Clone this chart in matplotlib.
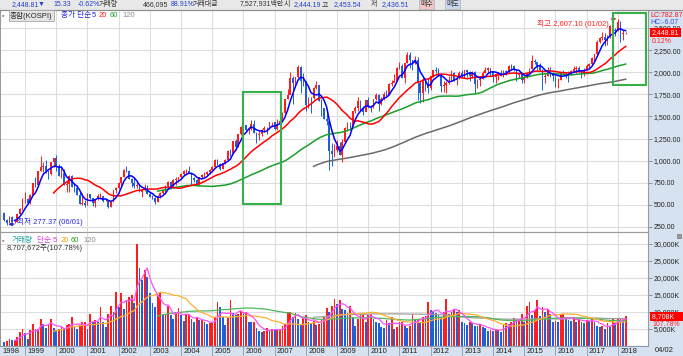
import numpy as np
import pandas as pd
import matplotlib
matplotlib.use("Agg")
import matplotlib.pyplot as plt
from matplotlib.patches import Rectangle
from matplotlib.lines import Line2D

plt.rcParams['font.family'] = ['Liberation Sans', 'Noto Sans CJK KR', 'DejaVu Sans']

# KOSPI monthly, 1998/05 .. 2018/04
first_open = 407
close = [
    331, 297, 365, 311, 311, 399, 449, 562,
    571, 520, 617, 747, 723, 883, 932, 944, 879, 846, 980, 1028,
    944, 828, 861, 725, 731, 821, 705, 688, 613, 514, 526, 504,
    620, 577, 523, 563, 595, 595, 541, 546, 479, 535, 664, 693,
    752, 819, 895, 883, 796, 742, 716, 722, 646, 668, 680, 627,
    591, 575, 535, 600, 634, 669, 712, 759, 697, 779, 797, 810,
    848, 880, 883, 862, 803, 785, 735, 811, 835, 846, 868, 896,
    932, 1011, 965, 911, 970, 1008, 1111, 1083, 1221, 1158, 1297, 1379,
    1399, 1352, 1359, 1419, 1317, 1295, 1297, 1352, 1371, 1364, 1432, 1434,
    1360, 1417, 1452, 1542, 1701, 1743, 1933, 1873, 1946, 2064, 1906, 1897,
    1624, 1711, 1704, 1825, 1852, 1674, 1594, 1474, 1448, 1113, 1076, 1124,
    1162, 1063, 1206, 1369, 1396, 1390, 1557, 1591, 1673, 1581, 1555, 1682,
    1602, 1594, 1692, 1741, 1641, 1698, 1759, 1742, 1872, 1882, 1904, 2051,
    2069, 1939, 2106, 2192, 2142, 2100, 2133, 1880, 1770, 1909, 1847, 1826,
    1956, 2030, 2014, 1982, 1843, 1854, 1881, 1905, 1996, 1913, 1933, 1997,
    1961, 2027, 2005, 1963, 2001, 1863, 1915, 1926, 1997, 2030, 2045, 2011,
    1941, 1980, 1986, 1961, 2017, 2002, 2076, 2068, 2020, 1964, 1981, 1916,
    1949, 1986, 2041, 2127, 2114, 2074, 2030, 1941, 1963, 2029, 1991, 1961,
    1912, 1917, 1996, 1994, 1983, 1970, 2016, 2034, 2044, 2008, 1983, 2026,
    2067, 2092, 2160, 2205, 2347, 2392, 2403, 2363, 2394, 2523, 2476, 2467,
    2566, 2427, 2445, 2448.81,
]
high = [
    420, 340, 370, 375, 330, 400, 469, 575,
    640, 580, 625, 747, 811, 886, 1052, 981, 1005, 893, 981, 1028,
    1066, 960, 916, 900, 770, 835, 840, 740, 720, 640, 630, 560,
    630, 628, 580, 565, 620, 630, 605, 570, 545, 540, 665, 704,
    757, 820, 905, 943, 890, 800, 800, 760, 740, 680, 740, 730,
    650, 610, 590, 610, 640, 680, 720, 770, 770, 790, 810, 820,
    860, 890, 905, 940, 870, 820, 790, 820, 850, 870, 880, 900,
    940, 1024, 1022, 970, 975, 1015, 1115, 1128, 1225, 1240, 1300, 1390,
    1425, 1400, 1380, 1465, 1465, 1320, 1330, 1360, 1390, 1380, 1440, 1440,
    1440, 1470, 1460, 1545, 1701, 1810, 2004, 1960, 1950, 2085, 2070, 1990,
    1890, 1720, 1720, 1830, 1900, 1850, 1700, 1600, 1580, 1450, 1200, 1190,
    1230, 1210, 1240, 1380, 1440, 1440, 1560, 1620, 1720, 1690, 1620, 1690,
    1720, 1630, 1700, 1760, 1750, 1720, 1780, 1800, 1880, 1910, 1980, 2055,
    2115, 2090, 2110, 2230, 2230, 2140, 2185, 2170, 1900, 1940, 1940, 1930,
    1960, 2030, 2060, 2050, 1990, 1900, 1900, 1960, 2020, 2000, 1950, 2010,
    2030, 2030, 2030, 2010, 2010, 2010, 1920, 1950, 2010, 2060, 2060, 2050,
    2015, 1990, 2000, 2020, 2020, 2020, 2080, 2090, 2080, 2030, 1990, 1990,
    1960, 1990, 2050, 2190, 2150, 2110, 2100, 2040, 1990, 2060, 2060, 2000,
    1960, 1930, 2000, 2030, 2000, 2010, 2030, 2070, 2070, 2070, 2020, 2050,
    2090, 2100, 2170, 2210, 2360, 2400, 2450, 2440, 2420, 2530, 2560, 2500,
    2607.10, 2580, 2480, 2453,
]
low = [
    321, 277.37, 293, 302, 300, 306, 390, 440,
    520, 506, 511, 614, 700, 719, 880, 877, 860, 793, 840, 930,
    882, 828, 800, 720, 650, 650, 705, 650, 610, 507, 500, 480,
    500, 570, 491, 480, 555, 580, 530, 540, 463, 480, 530, 630,
    680, 700, 815, 870, 790, 700, 690, 690, 640, 584, 660, 620,
    590, 570, 512, 530, 580, 620, 650, 690, 680, 690, 730, 760,
    800, 830, 840, 860, 730, 760, 720, 730, 800, 820, 830, 850,
    880, 930, 950, 890, 900, 960, 1000, 1050, 1080, 1120, 1150, 1290,
    1330, 1320, 1300, 1350, 1310, 1200, 1230, 1280, 1320, 1300, 1360, 1380,
    1345, 1350, 1380, 1440, 1540, 1700, 1750, 1638, 1830, 1930, 1770, 1850,
    1560, 1600, 1540, 1700, 1810, 1670, 1500, 1470, 1400, 892, 940, 1040,
    1100, 1060, 990, 1200, 1340, 1350, 1380, 1540, 1560, 1560, 1520, 1560,
    1600, 1550, 1600, 1690, 1560, 1630, 1690, 1720, 1740, 1850, 1890, 1900,
    2040, 1930, 1880, 2100, 2050, 2020, 2090, 1690, 1650, 1660, 1790, 1760,
    1800, 1950, 1990, 1960, 1780, 1780, 1760, 1870, 1900, 1900, 1860, 1920,
    1940, 1930, 1950, 1900, 1940, 1770, 1820, 1850, 1920, 1990, 1990, 1960,
    1890, 1880, 1910, 1960, 1950, 1970, 1990, 2030, 2010, 1900, 1930, 1880,
    1880, 1940, 1970, 2040, 2090, 2030, 2010, 1800, 1880, 1960, 1950, 1900,
    1830, 1820, 1910, 1970, 1930, 1890, 1970, 2000, 1990, 2000, 1930, 1960,
    2020, 2050, 2080, 2130, 2200, 2330, 2370, 2300, 2310, 2390, 2460, 2410,
    2470, 2340, 2370, 2436,
]
# volume, shown in K on the axis
volume = [
    1260, 1470, 1960, 1670, 1670, 2740, 4110, 5100,
    3720, 2160, 4700, 6370, 4900, 5100, 7940, 6570, 5290, 6570, 7940, 5290,
    4600, 5000, 5680, 4900, 6080, 6570, 8620, 5680, 5100, 6080, 6970, 6970,
    5000, 9300, 7150, 7640, 7000, 11560, 7000, 5680, 9300, 11850, 10090, 15780,
    11560, 15490, 10880, 13520, 14500, 15000, 12540, 29900, 22840, 19400, 22340, 20380,
    15490, 12540, 11560, 15000, 15490, 9110, 9110, 11850, 9110, 7940, 9900, 11270,
    9110, 7350, 9300, 9300, 7940, 7000, 8620, 7640, 7640, 7000, 6370, 6660,
    7000, 8620, 13030, 11560, 8620, 6170, 8620, 13520, 9600, 9110, 9300, 10290,
    10090, 10090, 7150, 7000, 7000, 5200, 4410, 4020, 4410, 5200, 4800, 5000,
    4600, 4600, 4800, 5790, 6370, 9900, 10100, 8620, 9700, 7800, 6500, 8200,
    9000, 7100, 6800, 7500, 6200, 6600, 7900, 8500, 11080, 9900, 11670, 13800,
    12500, 13400, 10880, 10500, 9700, 11850, 8440, 5970, 7940, 9110, 9110, 7150,
    9110, 9400, 7940, 6960, 6760, 5490, 5200, 7740, 6760, 8440, 5000, 5490,
    6960, 7150, 5970, 5200, 5970, 9400, 7740, 7940, 7150, 8440, 8920, 13030,
    10500, 10200, 9700, 9400, 8440, 9900, 13800, 9400, 9900, 10780, 9900, 10500,
    6960, 6760, 6170, 7150, 6760, 5970, 5790, 6370, 5490, 5200, 4510, 4800,
    4510, 5000, 4800, 4210, 6170, 6760, 6370, 7150, 8130, 7940, 7940, 9400,
    6960, 11850, 13030, 9110, 10500, 13400, 8920, 11370, 9900, 10880, 9400, 6960,
    7450, 6960, 9110, 9400, 7940, 7740, 7450, 8440, 7150, 7940, 6960, 6760,
    7740, 7450, 7940, 6960, 5970, 5490, 5970, 5000, 6760, 5490, 7940, 6760,
    8130, 8130, 7740, 8708,
]
years = list(range(1998, 2019))
price_ticks = [250, 500, 750, 1000, 1250, 1500, 1750, 2000, 2250, 2500]
vol_ticks = [5000, 10000, 15000, 20000, 25000, 30000]

W, H = 683, 356
def fx(p):
    return p / W
def fy(p):
    return 1 - p / H

RED = '#ff1c1c'
BLUE = '#1f5fd8'
FS = 5.5    # general small text
RS = 5.0    # right-hand scale labels

close = np.array(close, float)
high = np.array(high, float)
low = np.array(low, float)
volume = np.array(volume, float)
n = len(close)
x = np.arange(n)
open_ = np.r_[first_open, close[:-1]]   # month opens at last month's close
jan_pos = [(y - 1998) * 12 - 4 for y in years]
xl = (-1.62, 247.6)

fig = plt.figure(figsize=(W / 100, H / 100), dpi=100)
fig.patches.append(Rectangle((0, fy(10)), 1, 10 / H, transform=fig.transFigure,
                             fc='#e8e8e8', ec='none', zorder=-5))
fig.patches.append(Rectangle((fx(648), 0), 1 - fx(648), fy(10), transform=fig.transFigure,
                             fc='#d6e2f0', ec='none', zorder=-5))

ax = fig.add_axes([0, fy(232), fx(648), 222 / H])
axv = fig.add_axes([0, fy(346), fx(648), 114 / H], sharex=ax)
axx = fig.add_axes([0, 0, fx(648), 10 / H], sharex=ax)
fig.add_artist(Line2D([0, 1], [fy(10.3)] * 2, color='#8c8c8c', lw=0.8))

for a in (ax, axv):
    a.set_facecolor('white')
    a.set_axisbelow(True)
    a.grid(True, color='#dddddd', lw=0.8)
    a.yaxis.tick_right()
    a.tick_params(axis='x', length=0, labelbottom=False)
    a.tick_params(axis='y', length=3, width=0.6, pad=1.2, labelsize=RS,
                  color='#7a8696', labelcolor='#222222')
    for s in a.spines.values():
        s.set_color('#9a9a9a')
        s.set_linewidth(0.8)
ax.set_xticks(jan_pos[1:])
ax.set_xlim(*xl)

# price panel
up = close >= open_
ax.vlines(x[up], low[up], high[up], color=RED, lw=0.7)
ax.vlines(x[~up], low[~up], high[~up], color=BLUE, lw=0.7)
ax.bar(x, np.abs(close - open_), bottom=np.minimum(open_, close), width=0.7,
       color=np.where(up, RED, BLUE), lw=0)
cs = pd.Series(close)
ax.plot(x, cs.rolling(120).mean(), color='#6a6a6a', lw=1.1)
ax.plot(x, cs.rolling(60).mean(), color='#1a9e2a', lw=1.1)
ax.plot(x, cs.rolling(20).mean(), color='#ff0000', lw=1.1)
ax.plot(x, cs.rolling(5).mean(), color='#0000ff', lw=1.1)
ax.set_ylim(193, 2704)
ax.set_yticks(price_ticks)
ax.set_yticklabels([f'{v:,.2f}' for v in price_ticks])

for (x0, y0, x1, y1) in [(243, 92, 281, 204), (613, 13, 646, 85)]:
    ax.add_patch(Rectangle((x0 / 648, (232 - y1) / 222), (x1 - x0) / 648, (y1 - y0) / 222,
                           transform=ax.transAxes, fill=False, ec='#36b04a', lw=1.5, zorder=5))

imax = int(np.argmax(high))
ax.annotate('최고 2,607.10 (01/02)', xy=(imax, high[imax]), xytext=(-9, -5),
            textcoords='offset pixels', ha='right', va='center', fontsize=FS, color='#ff2020',
            arrowprops=dict(arrowstyle='-|>', color='#ff2020', lw=0.9, mutation_scale=5,
                            shrinkA=0, shrinkB=1))
imin = int(np.argmin(low))
ax.annotate('최저 277.37 (06/01)', xy=(imin, low[imin]), xytext=(10, 3),
            textcoords='offset pixels', ha='left', va='center', fontsize=FS, color='#2a2ad8',
            arrowprops=dict(arrowstyle='-|>', color='#2a2ad8', lw=0.9, mutation_scale=5,
                            shrinkA=0, shrinkB=1))

ytr = ax.get_yaxis_transform()
ax.text(1.006, close[-1], f'{close[-1]:,.2f}', transform=ytr, ha='left', va='center',
        fontsize=RS, color='white', clip_on=False,
        bbox=dict(boxstyle='square,pad=0.2', fc='#ff0000', ec='none'))
ax.annotate('0.12%', xy=(1.0, close[-1]), xycoords=ytr, xytext=(4, -8.5),
            textcoords='offset pixels', fontsize=RS, color='#ff2020', va='center',
            annotation_clip=False)

# price legend
fig.text(fx(1.5), fy(15.5), '▫', fontsize=5, color='#555555', va='center')
fig.text(fx(10), fy(15.5), '종합(KOSPI)', fontsize=5.5, color='#222222', va='center',
         bbox=dict(boxstyle='square,pad=0.15', fc='#e4e4e4', ec='#a8a8a8', lw=0.6))
for txt, xp, col in [('종가 단순', 61, '#2020e0'), ('5', 92, '#2020e0'), ('20', 99, '#ff2020'),
                     ('60', 110, '#1a9e2a'), ('120', 122, '#8c8c8c')]:
    fig.text(fx(xp), fy(15.5), txt, fontsize=5.5, color=col, va='center')

fig.text(fx(650.5), fy(15.5), 'LC:782.87', fontsize=RS, color='#ff1010', va='center')
fig.text(fx(650.5), fy(22), 'HC:-6.07', fontsize=RS, color='#3050e0', va='center')

# volume panel
vup = np.r_[False, volume[1:] >= volume[:-1]]
axv.bar(x, volume, width=0.7, color=np.where(vup, RED, BLUE), lw=0)
vs = pd.Series(volume)
axv.plot(x, vs.rolling(120).mean(), color='#a0a0a0', lw=0.9)
axv.plot(x, vs.rolling(60).mean(), color='#4cb85a', lw=0.9)
axv.plot(x, vs.rolling(20).mean(), color='#ffb030', lw=0.9)
axv.plot(x, vs.rolling(5).mean(), color='#ff50ff', lw=0.9)
axv.set_ylim(0, 33530)
axv.set_yticks(vol_ticks)
axv.set_yticklabels([f'{v:,}K' for v in vol_ticks])
vtr = axv.get_yaxis_transform()
axv.text(1.006, volume[-1], f'{volume[-1]:,.0f}K    ', transform=vtr, ha='left',
         va='center', fontsize=RS, color='white', clip_on=False,
         bbox=dict(boxstyle='square,pad=0.2', fc='#ff0000', ec='none'))
axv.annotate('107.78%', xy=(1.0, volume[-1]), xycoords=vtr, xytext=(4, -8.5),
             textcoords='offset pixels', fontsize=RS, color='#ff2020', va='center',
             annotation_clip=False)

fig.text(fx(1.5), fy(240.5), '▫', fontsize=5, color='#555555', va='center')
for txt, xp, col in [('거래량', 12, '#1aa0a0'), ('단순 5', 37, '#e040d8'), ('20', 61, '#f0a000'),
                     ('60', 71, '#1a9e2a'), ('120', 83, '#8c8c8c')]:
    fig.text(fx(xp), fy(240.5), txt, fontsize=5.5, color=col, va='center')
fig.text(fx(7), fy(248.5), '8,707,672주(107.78%)', fontsize=5.5, color='#333333', va='center')
fig.patches.append(Rectangle((fx(677), fy(238)), 4 / W, 4 / H, transform=fig.transFigure,
                             fc='#9a9a9a', ec='#6a6a6a', lw=0.4))

# date strip
axx.set_facecolor('#d6e2f0')
axx.set_ylim(0, 1)
axx.set_yticks([])
axx.tick_params(axis='x', length=0, labelbottom=False)
axx.grid(True, axis='x', color='#8d9bb0', lw=0.6)
for s in axx.spines.values():
    s.set_visible(False)
axx.spines['top'].set_visible(True)
axx.spines['top'].set_color('#8d9bb0')
xtr = axx.get_xaxis_transform()
for yr, p in zip(years, jan_pos):
    axx.text(max(p, xl[0]) + 0.9, 0.45, str(yr), transform=xtr, fontsize=FS,
             color='#222222', va='center', ha='left')
fig.text(fx(655), fy(351), '04/02', fontsize=FS, color='#222222', va='center')

# top status bar
top = [('2,448.81', 12, '#2040d0'), ('▼', 38, '#2040d0'), ('15.33', 53, '#2040d0'),
       ('-0.62%', 78, '#2040d0'), ('거래량', 99, '#333333'), ('466,095', 143, '#333333'),
       ('88.91%', 171, '#2040d0'), ('거래대금', 193, '#333333'),
       ('7,527,931백만', 240, '#333333'), ('시', 284, '#333333'), ('2,444.19', 294, '#2040d0'),
       ('고', 322, '#333333'), ('2,453.54', 334, '#2040d0'), ('저', 371, '#333333'),
       ('2,436.51', 382, '#2040d0')]
for txt, xp, col in top:
    fig.text(fx(xp), fy(4.5), txt, fontsize=5.0, color=col, va='center')
fig.text(fx(420), fy(4.5), '매수', fontsize=5.0, color='#333333', va='center',
         bbox=dict(boxstyle='square,pad=0.2', fc='#f4c8c8', ec='#b0b0b0', lw=0.5))
fig.text(fx(446), fy(4.5), '매도', fontsize=5.0, color='#333333', va='center',
         bbox=dict(boxstyle='square,pad=0.2', fc='#c8d8f0', ec='#b0b0b0', lw=0.5))

fig.savefig('out.png', dpi=100)
